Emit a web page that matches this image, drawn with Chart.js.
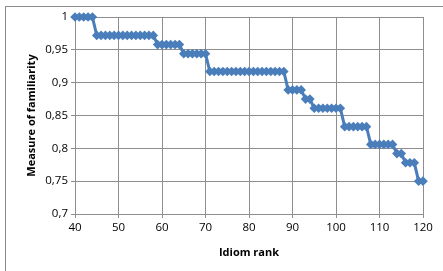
<!DOCTYPE html>
<html>
<head>
<meta charset="utf-8">
<script src="https://cdn.jsdelivr.net/npm/chart.js@4/dist/chart.umd.min.js"></script>
<style>
  html, body { margin: 0; padding: 0; background: #fff; }
  #box { position: relative; width: 443px; height: 271px; }
  #frame { position: absolute; left: 5px; top: 6px; width: 460px; height: 300px; border-left: 1px solid #8c8c8c; border-top: 1px solid #8c8c8c; }
  canvas { position: absolute; left: 0; top: 0; }
</style>
</head>
<body>
<div id="box">
  <div id="frame"></div>
  <canvas id="c" width="443" height="271"></canvas>
</div>
<script>
  // Idiom rank (x) and familiarity measure (y)
  var ranks = [40, 41, 42, 43, 44, 45, 46, 47, 48, 49, 50, 51, 52, 53, 54, 55, 56, 57, 58, 59,
    60, 61, 62, 63, 64, 65, 66, 67, 68, 69, 70, 71, 72, 73, 74, 75, 76, 77, 78, 79,
    80, 81, 82, 83, 84, 85, 86, 87, 88, 89, 90, 91, 92, 93, 94, 95, 96, 97, 98, 99,
    100, 101, 102, 103, 104, 105, 106, 107, 108, 109, 110, 111, 112, 113, 114, 115, 116, 117, 118, 119, 120];
  var familiarity = [1, 1, 1, 1, 1,
    0.972, 0.972, 0.972, 0.972, 0.972, 0.972, 0.972, 0.972, 0.972, 0.972, 0.972, 0.972, 0.972, 0.972,
    0.958, 0.958, 0.958, 0.958, 0.958, 0.958,
    0.944, 0.944, 0.944, 0.944, 0.944, 0.944,
    0.917, 0.917, 0.917, 0.917, 0.917, 0.917, 0.917, 0.917, 0.917, 0.917, 0.917, 0.917, 0.917, 0.917, 0.917, 0.917, 0.917, 0.917,
    0.889, 0.889, 0.889, 0.889,
    0.875, 0.875,
    0.861, 0.861, 0.861, 0.861, 0.861, 0.861, 0.861,
    0.833, 0.833, 0.833, 0.833, 0.833, 0.833,
    0.806, 0.806, 0.806, 0.806, 0.806, 0.806,
    0.792, 0.792,
    0.778, 0.778, 0.778,
    0.75, 0.75];

  var AZUL = "#4a7ebb";
  var GRADE = "#8e8e8e";
  var FONTE = "'Open Sans', 'Liberation Sans', sans-serif";

  var pontos = ranks.map(function (r, i) { return { x: r, y: familiarity[i] }; });

  new Chart(document.getElementById("c"), {
    type: "line",
    data: {
      datasets: [{
        data: pontos,
        borderColor: AZUL, backgroundColor: AZUL, borderWidth: 3,
        pointStyle: "rectRot", pointRadius: 4.8, pointBorderWidth: 0,
        pointBackgroundColor: AZUL, tension: 0
      }]
    },
    options: {
      responsive: false, animation: false, clip: false,
      layout: { padding: { left: 23, top: 17, right: 20, bottom: 8 } },
      plugins: { legend: { display: false }, tooltip: { enabled: false } },
      scales: {
        x: {
          type: "linear", min: 40, max: 120,
          afterFit: function (s) { s.height = 49; },
          ticks: { stepSize: 10, color: "#000", padding: 3, font: { family: FONTE, size: 11.5 } },
          grid: { color: GRADE, tickLength: 4, tickColor: GRADE },
          border: { color: GRADE },
          title: { display: true, text: "Idiom rank", color: "#000", padding: { top: 10 },
            font: { family: FONTE, size: 11, weight: "bold" } }
        },
        y: {
          min: 0.7, max: 1,
          afterFit: function (s) { s.width = 52; },
          ticks: {
            stepSize: 0.05, color: "#000", padding: 3, font: { family: FONTE, size: 11.5 },
            callback: function (v) { return String(Math.round(v * 100) / 100).replace(".", ","); }
          },
          grid: { color: GRADE, tickLength: 4, tickColor: GRADE },
          border: { color: GRADE },
          title: { display: true, text: "Measure of familiarity", color: "#000", padding: { top: 2, bottom: 2 },
            font: { family: FONTE, size: 11, weight: "bold" } }
        }
      }
    }
  });
</script>
</body>
</html>
